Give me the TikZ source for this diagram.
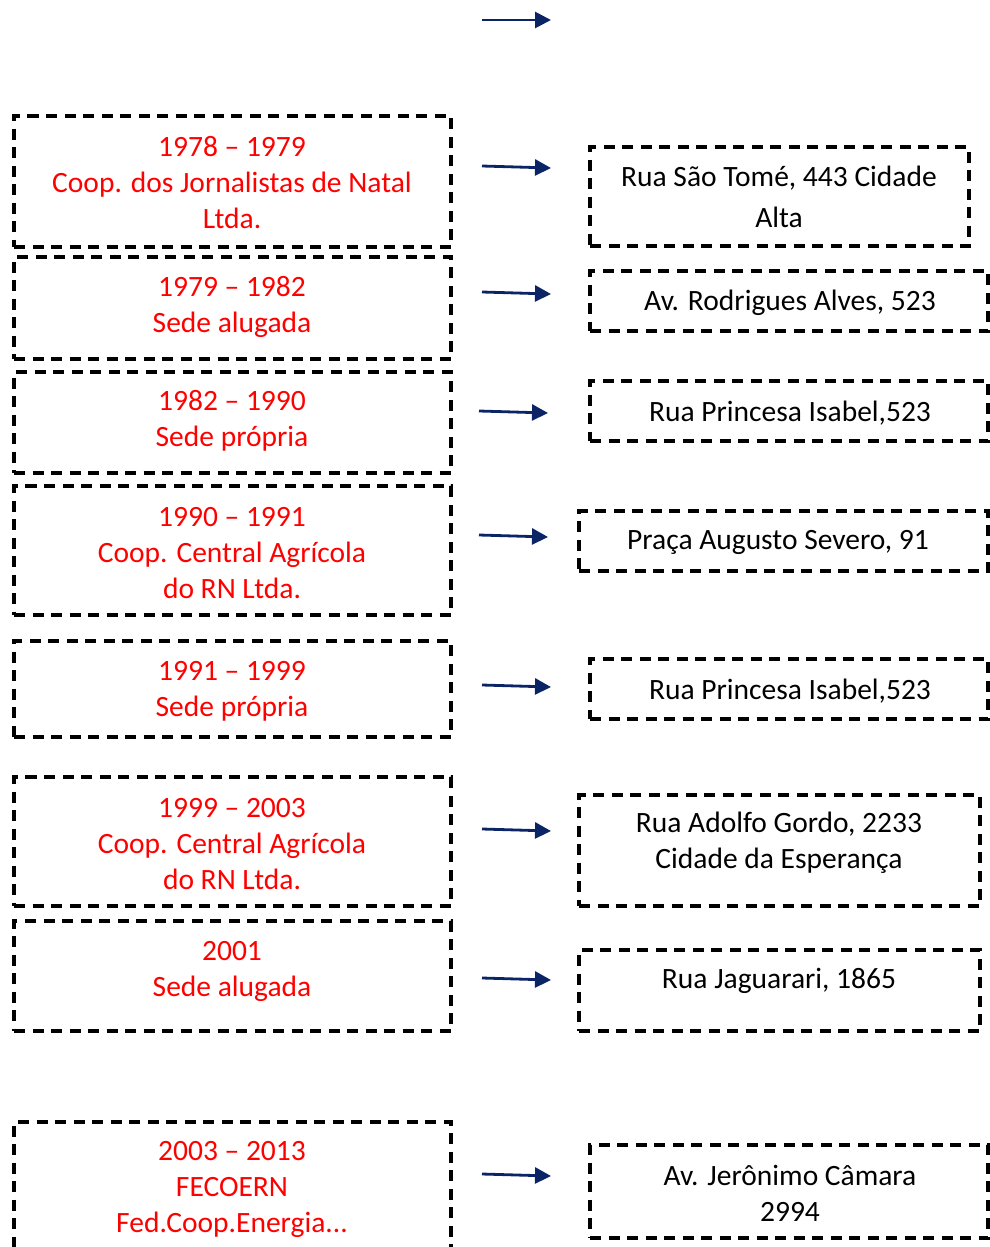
\documentclass[tikz,border=0pt]{standalone}
\usepackage{fontspec}
\setmainfont{Carlito}
\usetikzlibrary{arrows.meta}
\definecolor{navy}{HTML}{0A2466}
\definecolor{redtext}{HTML}{FF0000}
\tikzset{
  box/.style={draw=black, line width=3.2pt, dash pattern=on 11pt off 7.5pt,
    inner sep=0pt, outer sep=0pt},
  lbl/.style={font=\fontsize{29.5}{36}\selectfont, align=center, inner sep=0pt},
  period/.style={lbl, text=redtext},
  addr/.style={lbl, text=black},
  arr/.style={draw=navy, line width=2.8pt,
    -{Triangle[length=16pt,width=16pt]}},
}
% left-column frame: name, top edge, bottom edge
\newcommand{\leftbox}[3]{%
  \node[box, minimum width=437pt, minimum height={#3-#2}] (#1) at (232.5,{(#2+#3)/2}) {};%
}
\begin{document}
\begin{tikzpicture}[x=1pt,y=-1pt]
\useasboundingbox (0,0) rectangle (990,1247);

% left column: periods
\leftbox{p1}{116}{247}
\leftbox{p2}{257}{359}
\leftbox{p3}{372}{473}
\leftbox{p4}{486}{615}
\leftbox{p5}{641}{737}
\leftbox{p6}{777}{906}
\leftbox{p7}{921}{1031}
\leftbox{p8}{1122}{1262}

\node[period] (t1) at (232,183) {1978 – 1979\\Coop. dos Jornalistas de Natal\\Ltda.};
\node[period] (t2) at (232,307) {1979 – 1982\\Sede alugada};
\node[period] (t3) at (232,421) {1982 – 1990\\Sede própria};
\node[period] (t4) at (232,553) {1990 – 1991\\Coop. Central Agrícola\\do RN Ltda.};
\node[period] (t5) at (232,691) {1991 – 1999\\Sede própria};
\node[period] (t6) at (232,844) {1999 – 2003\\Coop. Central Agrícola\\do RN Ltda.};
\node[period] (t7) at (232,971) {2001\\Sede alugada};
\node[period] (t8) at (232,1189) {2003 – 2013\\FECOERN\\Fed.Coop.Energia...};

% right column: addresses
\node[box, minimum width=379pt, minimum height=99pt] (r1) at (779.5,196.5) {};
\node[box, minimum width=398pt, minimum height=60pt] (r2) at (789,301) {};
\node[box, minimum width=398pt, minimum height=60pt] (r3) at (789,411) {};
\node[box, minimum width=409pt, minimum height=60pt] (r4) at (783.5,541) {};
\node[box, minimum width=398pt, minimum height=60pt] (r5) at (789,689) {};
\node[box, minimum width=401pt, minimum height=111pt] (r6) at (779.5,850.5) {};
\node[box, minimum width=401pt, minimum height=81pt] (r7) at (779.5,990.5) {};
\node[box, minimum width=398pt, minimum height=93pt] (r8) at (789,1191.5) {};

\node[addr, font=\fontsize{29.5}{41}\selectfont] (s1) at (779,197) {Rua São Tomé, 443 Cidade\\Alta};
\node[addr] (s2) at (790,303) {Av. Rodrigues Alves, 523};
\node[addr] (s3) at (790,413) {Rua Princesa Isabel,523};
\node[addr] (s4) at (778,542) {Praça Augusto Severo, 91};
\node[addr] (s5) at (790,691) {Rua Princesa Isabel,523};
\node[addr] (s6) at (779,843) {Rua Adolfo Gordo, 2233\\Cidade da Esperança};
\node[addr] (s7) at (779,981) {Rua Jaguarari, 1865};
\node[addr] (s8) at (790,1193) {Av. Jerônimo Câmara\\2994};

% arrows
\coordinate (a0s) at (482,20);   \coordinate (a0e) at (551,20);
\coordinate (a1s) at (482,166);  \coordinate (a1e) at (551,168);
\coordinate (a2s) at (482,292);  \coordinate (a2e) at (551,294);
\coordinate (a3s) at (479,411);  \coordinate (a3e) at (548,413);
\coordinate (a4s) at (479,535);  \coordinate (a4e) at (548,537);
\coordinate (a5s) at (482,685);  \coordinate (a5e) at (551,687);
\coordinate (a6s) at (482,829);  \coordinate (a6e) at (551,831);
\coordinate (a7s) at (482,978);  \coordinate (a7e) at (551,980);
\coordinate (a8s) at (482,1174); \coordinate (a8e) at (551,1176);
\foreach \i in {0,...,8} { \draw[arr] (a\i s) -- (a\i e); }
\end{tikzpicture}
\end{document}
